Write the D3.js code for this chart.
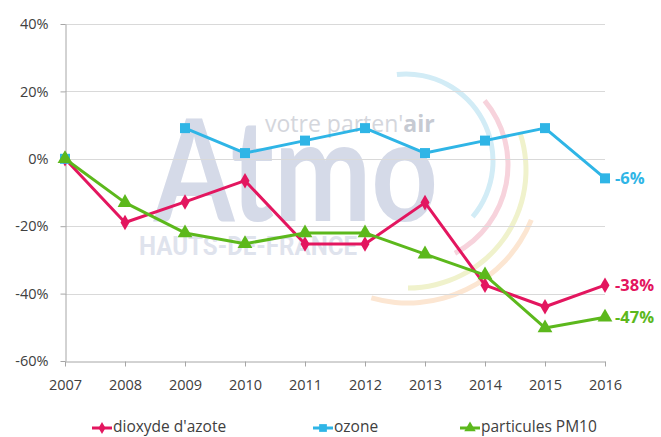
<!DOCTYPE html>
<html>
<head>
<meta charset="utf-8">
<script src="https://cdnjs.cloudflare.com/ajax/libs/d3/7.8.5/d3.min.js"></script>
<style>
  html, body { margin: 0; padding: 0; background: #fff; }
  svg { display: block; font-family: "Open Sans", "Noto Sans", sans-serif; }
</style>
</head>
<body>
<svg id="chart" width="661" height="437"></svg>
<script>
const years = [2007, 2008, 2009, 2010, 2011, 2012, 2013, 2014, 2015, 2016];
const no2 =   [0, -18.9, -12.8, -6.5, -25.3, -25.3, -13, -37.5, -43.9, -37.5];
const ozone = [0, null, 9.1, 1.7, 5.4, 9.1, 1.7, 5.4, 9.1, -5.8];
const pm10 =  [0, -13, -22, -25.2, -22, -22, -28.3, -34.5, -50.2, -47];
const yTicks = [40, 20, 0, -20, -40, -60];
const endLabels = ["-38%", "-6%", "-47%"];
const seriesNames = ["dioxyde d'azote", "ozone", "particules PM10"];

const colors = ["#e3165f", "#2fb5e6", "#5cb81c"];
const svg = d3.select("#chart");

const x = d3.scaleLinear().domain([2007, 2016]).range([65, 605]);
const y = d3.scaleLinear().domain([-60, 40]).range([361, 24]);

// watermark
const wm = svg.append("g").attr("class", "watermark");
const arcs = [
  {cx: 406, cy: 161, r: 87, a0: -6, a1: 130, c: "#d2ecf6"},
  {cx: 408, cy: 165, r: 100, a0: 50, a1: 152, c: "#f7d3dc"},
  {cx: 408, cy: 170, r: 118, a0: 72, a1: 180, c: "#f0f2cc"},
  {cx: 408, cy: 170, r: 133, a0: 112, a1: 196, c: "#fce6d2"}
];
arcs.forEach(a => {
  wm.append("path")
    .attr("transform", `translate(${a.cx},${a.cy})`)
    .attr("d", d3.arc()({innerRadius: a.r - 2.5, outerRadius: a.r + 2.5,
      startAngle: a.a0 * Math.PI / 180, endAngle: a.a1 * Math.PI / 180, cornerRadius: 2.5}))
    .attr("fill", a.c);
});
const atmo = wm.append("text").attr("x", 0).attr("y", 0)
  .attr("font-size", 142).attr("font-weight", "bold")
  .attr("font-family", "Lato, sans-serif")
  .attr("fill", "#d5dae8").text("Atmo");
const bb = atmo.node().getBBox();
const sx = 285 / bb.width;
atmo.attr("transform", `translate(${153 - bb.x * sx},221) scale(${sx},1)`);
const vt = wm.append("text").attr("x", 265).attr("y", 132)
  .attr("font-size", 23).attr("fill", "#d4d6dc");
vt.append("tspan").text("votre parten'");
vt.append("tspan").attr("font-weight", "bold").attr("fill", "#c6cad2").text("air");
wm.append("text").attr("x", 139).attr("y", 255)
  .attr("font-size", 25).attr("font-weight", "bold")
  .attr("font-family", "'Roboto', sans-serif")
  .attr("textLength", 218).attr("lengthAdjust", "spacingAndGlyphs")
  .attr("fill", "#dfe3ed").text("HAUTS-DE-FRANCE");

// gridlines
svg.append("g").selectAll("line").data(yTicks.filter(d => d !== -60)).join("line")
  .attr("x1", 65).attr("x2", 605)
  .attr("y1", d => Math.round(y(d)) + 0.5).attr("y2", d => Math.round(y(d)) + 0.5)
  .attr("stroke", "#d9d9d9").attr("stroke-width", 1);

// axes
const yAxis = d3.axisLeft(y).tickValues(yTicks).tickFormat(d => d + "%").tickSize(5).tickSizeOuter(0);
const gy = svg.append("g").attr("transform", "translate(65.5,0)").call(yAxis);
gy.select(".domain").attr("stroke", "#a6a6a6");
gy.selectAll(".tick line").attr("stroke", "#a6a6a6");
gy.selectAll(".tick text").attr("x", -17).attr("font-size", 14.5).attr("fill", "#404040")
  .attr("font-family", "'Open Sans', sans-serif");

const xAxis = d3.axisBottom(x).tickValues(years).tickFormat(d3.format("d")).tickSize(5).tickSizeOuter(0);
const gx = svg.append("g").attr("transform", `translate(0,${Math.round(y(-60)) + 0.5})`).call(xAxis);
gx.select(".domain").attr("stroke", "#a6a6a6");
gx.selectAll(".tick line").attr("stroke", "#a6a6a6");
gx.selectAll(".tick text").attr("y", 18).attr("font-size", 14.5).attr("fill", "#404040")
  .attr("font-family", "'Open Sans', sans-serif");

// series
const allSeries = [no2, ozone, pm10];
const line = d3.line().defined(d => d.v !== null).x(d => x(d.year)).y(d => y(d.v));
const symTypes = [d3.symbolDiamond, d3.symbolSquare, d3.symbolTriangle];
const symSizes = [70, 100, 95];

allSeries.forEach((vals, i) => {
  const pts = years.map((yr, j) => ({year: yr, v: vals[j]}));
  const defined = pts.filter(d => d.v !== null);
  svg.append("path").datum(pts)
    .attr("d", line).attr("fill", "none")
    .attr("stroke", colors[i]).attr("stroke-width", 3).attr("stroke-linejoin", "round");
  svg.append("g").selectAll("path").data(defined).join("path")
    .attr("transform", d => `translate(${x(d.year)},${y(d.v)})`)
    .attr("d", d3.symbol().type(symTypes[i]).size(symSizes[i]))
    .attr("fill", colors[i]);
  const last = pts[pts.length - 1];
  svg.append("text").attr("x", x(last.year) + 10).attr("y", y(last.v) + 6)
    .attr("font-size", 16.5).attr("font-weight", "bold").attr("fill", colors[i])
    .attr("font-family", "'Open Sans', sans-serif")
    .text(endLabels[i]);
});

// legend
const legX = [92, 313, 460];
const lg = svg.append("g");
seriesNames.forEach((name, i) => {
  const g = lg.append("g").attr("transform", `translate(${legX[i]},428)`);
  g.append("line").attr("x1", 0).attr("x2", 20).attr("y1", 0).attr("y2", 0)
    .attr("stroke", colors[i]).attr("stroke-width", 3);
  g.append("path").attr("transform", "translate(10,0)")
    .attr("d", d3.symbol().type(symTypes[i]).size(symSizes[i] * 0.6))
    .attr("fill", colors[i]);
  g.append("text").attr("x", 21).attr("y", 4)
    .attr("font-size", 15.5).attr("fill", "#404040")
    .attr("font-family", "'Open Sans', sans-serif")
    .text(name);
});
</script>
</body>
</html>
